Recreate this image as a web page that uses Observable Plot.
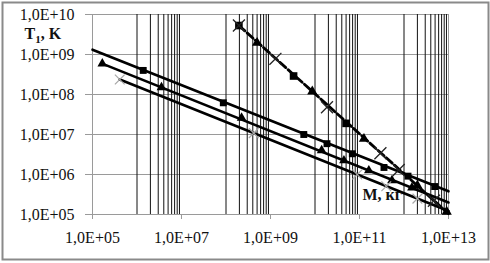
<!DOCTYPE html>
<html><head><meta charset="utf-8">
<script src="https://cdn.jsdelivr.net/npm/d3@7"></script>
<script src="https://cdn.jsdelivr.net/npm/@observablehq/plot@0.6"></script>
<style>body{margin:0;background:#fff;} #chart{width:490px;height:263px;overflow:hidden;}
#chart svg, #chart svg text{font-family:"Liberation Serif","Times New Roman",serif;}</style>
</head><body><div id="chart"></div>
<script>
// ticks
const xTicks = [1e5, 1e7, 1e9, 1e11, 1e13];
const xTickLabels = ["1,0E+05", "1,0E+07", "1,0E+09", "1,0E+11", "1,0E+13"];
const yTicks = [1e5, 1e6, 1e7, 1e8, 1e9, 1e10];
const yTickLabels = ["1,0E+05", "1,0E+06", "1,0E+07", "1,0E+08", "1,0E+09", "1,0E+10"];
const minorExponents = [6, 8, 10, 12];
const minorMultipliers = [1, 2, 3, 4, 5, 6, 7, 8, 9];

const yTitle = "T1, K";
const xTitle = "M, кг";

// solid trend lines (endpoints)
const lineA_M = [1e5, 1e13];    const lineA_T = [1.32e9, 3.8e5];
const lineB_M = [1.65e5, 1e13]; const lineB_T = [5.9e8, 2.0e5];
const lineC_M = [4.1e5, 1e13];  const lineC_T = [2.37e8, 1.22e5];
// dashed line
const dashed_M = [1.95e8, 1e13]; const dashed_T = [5.3e9, 1.05e5];

// markers on solid lines
const sqA_M = [1.38e6, 8.7e7, 5.6e9, 1.86e10, 6.9e10, 3.55e11, 1.23e12, 4.9e12];
const sqA_T = [4.0e8, 6.2e7, 1.0e7, 5.9e6, 3.3e6, 1.5e6, 9.1e5, 5.0e5];
const triB_M = [1.66e5, 3.55e6, 2.24e8, 1.41e10, 4.47e10, 1.62e11, 5.37e11, 1.51e12];
const triB_T = [5.9e8, 1.5e8, 2.6e7, 4.0e6, 2.24e6, 1.26e6, 7.1e5, 4.7e5];
const xC_M = [4.1e5, 4.2e8, 8.9e10, 4.0e11, 2.0e12];
const xC_T = [2.37e8, 1.08e7, 1.0e6, 5.1e5, 2.5e5];

// markers on dashed line
const sqD_M = [1.95e8, 3.3e9, 5.0e10];
const sqD_T = [5.3e9, 2.9e8, 1.9e7];
const triD_M = [5.0e8, 8.7e9, 1.26e11, 2.0e12, 9.1e12];
const triD_T = [1.95e9, 1.19e8, 7.8e6, 5.3e5, 1.17e5];
const xD_M = [1.95e8, 1.29e9, 1.86e10, 2.95e11, 7.6e11, 4.7e12];
const xD_T = [5.3e9, 7.8e8, 4.8e7, 3.4e6, 1.3e6, 2.2e5];

const pts = (M, T) => M.map((m, i) => ({M: m, T: T[i]}));
const minorGrid = minorExponents.flatMap(e => minorMultipliers.map(k => k * Math.pow(10, e)));

const chart = Plot.plot({
  width: 490, height: 263,
  marginLeft: 92, marginRight: 42, marginTop: 14, marginBottom: 49,
  style: "font-family: 'Liberation Serif', 'Times New Roman', serif; font-size: 16px; color: #111; background: #fff; overflow: visible;",
  x: {type: "log", domain: [1e5, 1e13]},
  y: {type: "log", domain: [1e5, 1e10]},
  marks: [
    Plot.frame({stroke: "#8a8a8a", strokeWidth: 2, insetLeft: -90, insetTop: -12, insetRight: -40, insetBottom: -45}),
    Plot.ruleY(yTicks, {stroke: "#9a9a9a", strokeWidth: 1}),
    Plot.ruleX(minorGrid, {stroke: "#111", strokeWidth: 1}),
    Plot.ruleX([1e13], {stroke: "#9a9a9a", strokeWidth: 1}),
    Plot.ruleX([1e5], {stroke: "#9a9a9a", strokeWidth: 1}),
    Plot.axisY(yTicks, {tickFormat: d => yTickLabels[yTicks.indexOf(d)], tickSize: 7, tickPadding: 11, stroke: "#9a9a9a", fill: "#111", fontSize: 16, label: null}),
    Plot.axisX(xTicks, {tickFormat: d => xTickLabels[xTicks.indexOf(d)], tickSize: 5, tickPadding: 12, stroke: "#9a9a9a", fill: "#111", fontSize: 16, label: null}),
    Plot.line(pts(lineA_M, lineA_T), {x: "M", y: "T", stroke: "#000", strokeWidth: 2.6}),
    Plot.line(pts(lineB_M, lineB_T), {x: "M", y: "T", stroke: "#000", strokeWidth: 2.6}),
    Plot.line(pts(lineC_M, lineC_T), {x: "M", y: "T", stroke: "#000", strokeWidth: 2.6}),
    Plot.line(pts(dashed_M, dashed_T), {x: "M", y: "T", stroke: "#000", strokeWidth: 2.8, strokeDasharray: "8,3"}),
    Plot.dot(pts(sqA_M, sqA_T), {x: "M", y: "T", symbol: "square", r: 3.9, fill: "#000"}),
    Plot.dot(pts(triB_M, triB_T), {x: "M", y: "T", symbol: "triangle", r: 3.6, fill: "#000"}),
    Plot.dot(pts(xC_M, xC_T), {x: "M", y: "T", symbol: "times", r: 4.5, stroke: "#a8a8a8", strokeWidth: 1.2}),
    Plot.dot(pts(sqD_M, sqD_T), {x: "M", y: "T", symbol: "square", r: 4.3, fill: "#000"}),
    Plot.dot(pts(triD_M, triD_T), {x: "M", y: "T", symbol: "triangle", r: 3.8, fill: "#000"}),
    Plot.dot(pts(xD_M, xD_T), {x: "M", y: "T", symbol: "times", r: 5.5, stroke: "#222", strokeWidth: 1.3}),
    Plot.text([yTitle], {frameAnchor: "top-left", dx: -68, dy: 13, textAnchor: "start", fontWeight: "bold", fontSize: 16, fill: "#111"}),
    Plot.text([xTitle], {frameAnchor: "bottom-right", dx: -86, dy: -15, textAnchor: "start", fontWeight: "bold", fontSize: 16, fill: "#111"})
  ]
});

document.getElementById("chart").appendChild(chart);

// subscript in the y title
d3.select(chart).selectAll("text").filter(function () { return this.textContent === yTitle; })
  .each(function () {
    const t = d3.select(this);
    t.text(null);
    t.append("tspan").text("T");
    t.append("tspan").attr("font-size", 11).attr("dy", 4).text("1");
    t.append("tspan").attr("font-size", 16).attr("dy", -4).text(", K");
  });
</script>
</body></html>
